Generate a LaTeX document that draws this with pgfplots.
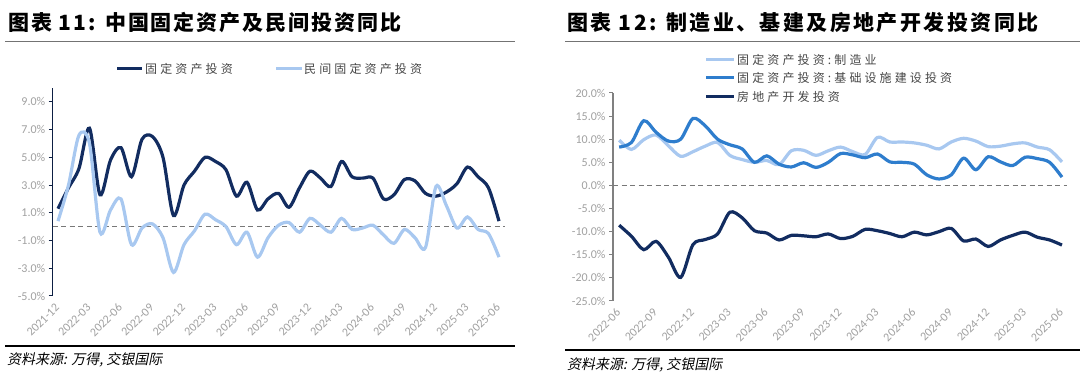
\documentclass[border=0pt]{standalone}
\usepackage{fontspec}
\usepackage{pgfplots}
\usepackage{pgfplotstable}
\pgfplotsset{compat=1.18}
\setmainfont{Carlito}
\newfontfamily\cjk{Noto Sans CJK SC}
\newfontfamily\cjkslant{Noto Sans CJK SC}[FakeSlant=0.2]
\definecolor{navy}{RGB}{18,44,96}
\definecolor{lblue}{RGB}{168,200,240}
\definecolor{mblue}{RGB}{46,125,205}
\definecolor{tickgray}{RGB}{160,160,160}
\definecolor{legtext}{RGB}{70,70,70}
\definecolor{dashgray}{RGB}{120,120,120}

\pgfplotstableread{
i fai pri
0 1.3 0.4
1 2.8 3.0
2 4.2 6.6
3 7.1 6.0
4 2.3 -0.4
5 4.8 1.2
6 5.7 2.0
7 3.6 -1.3
8 6.3 -0.1
9 6.5 0.2
10 5.0 -0.8
11 0.8 -3.3
12 3.0 -1.3
13 4.0 -0.3
14 5.0 0.9
15 4.7 0.5
16 4.1 0.0
17 2.2 -1.3
18 3.2 -0.4
19 1.2 -2.2
20 2.0 -0.8
21 2.4 0.1
22 1.4 0.3
23 2.8 -0.4
24 4.0 0.6
25 3.5 0.1
26 2.9 -0.4
27 4.7 0.6
28 3.6 -0.2
29 3.5 -0.1
30 3.5 0.1
31 2.0 -0.6
32 2.3 -1.2
33 3.4 -0.2
34 3.3 -0.8
35 2.4 -1.5
36 2.2 2.9
37 2.5 1.5
38 3.1 -0.1
39 4.3 0.7
40 3.6 -0.2
41 2.8 -0.5
42 0.4 -2.2
}\lefttable

\pgfplotstableread{
i mfg infra re
0 9.8 8.3 -8.6
1 7.8 9.3 -11.0
2 9.9 14.0 -13.9
3 10.9 11.5 -12.1
4 8.6 9.6 -15.5
5 6.3 10.0 -19.9
6 7.3 14.5 -12.8
7 8.5 12.9 -11.7
8 9.3 10.0 -10.5
9 6.5 8.8 -5.8
10 5.6 7.9 -7.0
11 5.0 5.0 -9.8
12 5.4 6.4 -10.3
13 4.5 4.6 -11.8
14 7.5 4.0 -10.8
15 7.6 4.9 -10.9
16 6.5 3.9 -11.1
17 7.5 5.0 -10.5
18 8.3 6.9 -11.5
19 7.3 6.6 -11.0
20 6.7 6.0 -9.5
21 10.4 6.8 -9.8
22 9.4 5.1 -10.4
23 9.4 5.0 -11.1
24 9.2 4.6 -10.1
25 8.7 2.3 -10.7
26 7.9 1.4 -10.0
27 9.4 2.3 -9.3
28 10.2 5.9 -12.0
29 9.6 3.4 -11.6
30 8.4 6.2 -13.2
31 8.5 5.1 -11.8
32 9.0 4.3 -10.8
33 9.2 6.1 -10.1
34 8.3 5.8 -11.2
35 7.7 5.0 -11.8
36 5.1 1.8 -12.9
}\righttable

\begin{document}
\begin{tikzpicture}[x=1pt,y=1pt]
\useasboundingbox (0,0) rectangle (1080,377);

% titles
\node[anchor=base west, inner sep=0] at (8,346) {\cjk\bfseries\fontsize{21}{21}\selectfont\addfontfeatures{LetterSpace=9.5}图表 11: 中国固定资产及民间投资同比};
\node[anchor=base west, inner sep=0] at (567,346) {\cjk\bfseries\fontsize{21}{21}\selectfont\addfontfeatures{LetterSpace=11.5}图表 12: 制造业、基建及房地产开发投资同比};
\draw[line width=1.8pt, color=black!55] (5,335.5) -- (515,335.5);
\draw[line width=1.8pt, color=black!55] (565,335.5) -- (1080,335.5);

% bottom rules and sources
\draw[line width=1.2pt, color=black] (5,31) -- (515,31);
\draw[line width=1.2pt, color=black] (565,27) -- (1080,27);
\node[anchor=west, inner sep=0] at (7,17) {\cjkslant\fontsize{14}{14}\selectfont 资料来源: 万得, 交银国际};
\node[anchor=west, inner sep=0] at (567,12) {\cjkslant\fontsize{14}{14}\selectfont 资料来源: 万得, 交银国际};

% left legend
\draw[navy, line width=3pt] (117,308) -- (142,308);
\node[anchor=west, inner sep=0, text=legtext] at (145,308) {\cjk\fontsize{12}{12}\selectfont\addfontfeatures{LetterSpace=26}固定资产投资};
\draw[lblue, line width=3pt] (276,308) -- (302,308);
\node[anchor=west, inner sep=0, text=legtext] at (304,308) {\cjk\fontsize{12}{12}\selectfont\addfontfeatures{LetterSpace=26}民间固定资产投资};

% right legend
\draw[lblue, line width=3pt] (706,317) -- (734,317);
\node[anchor=west, inner sep=0, text=legtext] at (737,317) {\cjk\fontsize{12}{12}\selectfont\addfontfeatures{LetterSpace=26}固定资产投资:制造业};
\draw[mblue, line width=3pt] (706,299) -- (734,299);
\node[anchor=west, inner sep=0, text=legtext] at (737,299) {\cjk\fontsize{12}{12}\selectfont\addfontfeatures{LetterSpace=26}固定资产投资:基础设施建设投资};
\draw[navy, line width=3pt] (706,280) -- (734,280);
\node[anchor=west, inner sep=0, text=legtext] at (737,280) {\cjk\fontsize{12}{12}\selectfont\addfontfeatures{LetterSpace=26}房地产开发投资};

\pgfplotsset{
  common/.style={
    scale only axis,
    anchor=south west,
    axis lines*=left,
    x axis line style={draw=none},
    xtick style={draw=none},
    tick align=outside,
    major tick length=4pt,
    /pgf/number format/assume math mode=true,
    yticklabel={\pgfmathprintnumber[fixed,fixed zerofill,precision=1]{\tick}\%},
    ticklabel style={font=\fontsize{12}{12}\selectfont, text=tickgray},
    xticklabel style={rotate=45, anchor=east, inner sep=1pt},
    xticklabel shift=5pt,
    clip=false,
  }
}

% left chart
\begin{axis}[common,
  at={(52.75pt,81pt)},
  width=452.55pt, height=208pt,
  xmin=-0.5, xmax=42.6,
  ymin=-5, ymax=10,
  ytick={-5,-3,...,9},
  xtick={0,3,...,42},
  xticklabels={2021-12,2022-03,2022-06,2022-09,2022-12,2023-03,2023-06,2023-09,2023-12,2024-03,2024-06,2024-09,2024-12,2025-03,2025-06},
  y axis line style={draw=navy!70!black, line width=1.3pt},
  ytick style={draw=navy!70!black, line width=1pt},
]
\addplot[dashgray, line width=1.6pt, dash pattern=on 5pt off 3.5pt] coordinates {(-0.5,0) (42.6,0)};
\addplot[navy, line width=3.2pt, smooth, tension=0.5] table[x=i, y=fai] {\lefttable};
\addplot[lblue, line width=3.2pt, smooth, tension=0.5] table[x=i, y=pri] {\lefttable};
\end{axis}

% right chart
\begin{axis}[common,
  at={(613pt,76pt)},
  width=453.9pt, height=208pt,
  xmin=-0.5, xmax=36.4,
  ymin=-25, ymax=20,
  ytick={-25,-20,...,20},
  xtick={0,3,...,36},
  xticklabels={2022-06,2022-09,2022-12,2023-03,2023-06,2023-09,2023-12,2024-03,2024-06,2024-09,2024-12,2025-03,2025-06},
  y axis line style={draw=black!50, line width=1.5pt},
  ytick style={draw=black!50, line width=1pt},
]
\addplot[dashgray, line width=1.6pt, dash pattern=on 5pt off 3.5pt] coordinates {(-0.5,0) (36.4,0)};
\addplot[lblue, line width=3.2pt, smooth, tension=0.5] table[x=i, y=mfg] {\righttable};
\addplot[mblue, line width=3.2pt, smooth, tension=0.5] table[x=i, y=infra] {\righttable};
\addplot[navy, line width=3.2pt, smooth, tension=0.5] table[x=i, y=re] {\righttable};
\end{axis}
\end{tikzpicture}
\end{document}
